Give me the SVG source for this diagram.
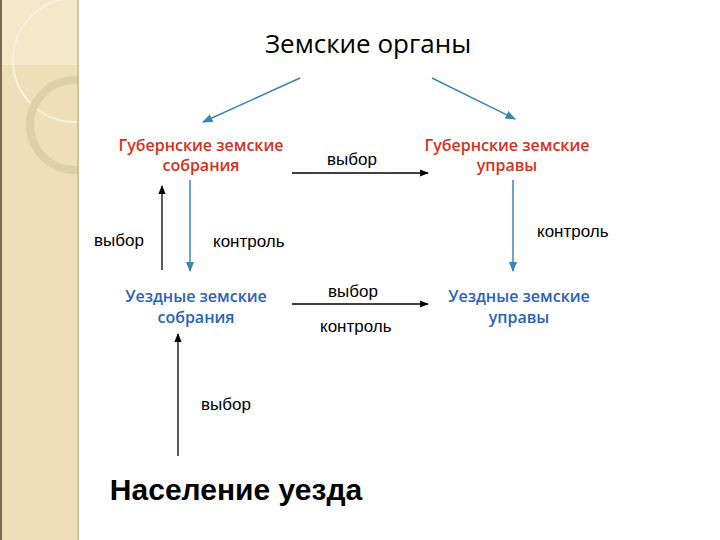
<svg xmlns="http://www.w3.org/2000/svg" width="720" height="540" viewBox="0 0 720 540">
<style>
.r{font-family:"Open Sans","Liberation Sans",sans-serif;font-size:16px;font-weight:600;fill:#d6301e;text-anchor:middle}
.b{font-family:"Open Sans","Liberation Sans",sans-serif;font-size:16px;font-weight:600;fill:#2a62b8;text-anchor:middle}
.k{font-family:"Liberation Sans",sans-serif;font-size:17px;fill:#000}
.blue{stroke:#3a86b0;stroke-width:1.5;fill:none;marker-end:url(#ab)}
.blk{stroke:#000;stroke-width:1.3;fill:none;marker-end:url(#ak)}
</style>
<defs>
<marker id="ab" viewBox="0 0 10 10" refX="9" refY="5" markerWidth="7" markerHeight="7" orient="auto"><path d="M0,1 L10,5 L0,9 z" fill="#3a86b0"/></marker>
<marker id="ak" viewBox="0 0 10 10" refX="9" refY="5" markerWidth="7" markerHeight="7" orient="auto"><path d="M0,1 L10,5 L0,9 z" fill="#000"/></marker>
<clipPath id="strip"><rect x="0" y="0" width="79" height="540"/></clipPath>
</defs>
<rect width="720" height="540" fill="#fff"/>
<g clip-path="url(#strip)">
<rect x="0" y="0" width="79" height="540" fill="#ede0b8"/>
<rect x="0" y="0" width="79" height="65" fill="#f3e9c9"/>
<circle cx="75" cy="60" r="62" fill="none" stroke="#f7f0dc" stroke-width="2"/>
<circle cx="75" cy="125" r="45" fill="none" stroke="#ddd1a8" stroke-width="8"/>
</g>
<line x1="78" y1="0" x2="78" y2="540" stroke="#c9b890" stroke-width="1.5"/>
<line x1="1" y1="0" x2="1" y2="540" stroke="#7a6a50" stroke-width="2"/>
<g id="title"><text x="368" y="53" font-family="'Open Sans','Liberation Sans',sans-serif" font-size="26" text-anchor="middle" fill="#000">Земские органы</text></g>
<g id="gsobr"><text class="r" x="201" y="151">Губернские земские</text><text class="r" x="201" y="171">собрания</text></g>
<g id="guprav"><text class="r" x="507" y="151">Губернские земские</text><text class="r" x="507" y="171">управы</text></g>
<g id="usobr"><text class="b" x="196" y="302">Уездные земские</text><text class="b" x="196" y="323">собрания</text></g>
<g id="uuprav"><text class="b" x="519" y="302">Уездные земские</text><text class="b" x="519" y="323">управы</text></g>
<g id="naselenie"><text x="236" y="500" font-family="'Liberation Sans',Arial,sans-serif" font-size="30" font-weight="bold" text-anchor="middle" fill="#000">Население уезда</text></g>
<g id="connectors">
<line class="blue" x1="300" y1="78" x2="203" y2="122"/>
<line class="blue" x1="432" y1="78" x2="515" y2="119"/>
<line class="blk" x1="292" y1="173" x2="428" y2="173"/>
<line class="blk" x1="162" y1="270" x2="162" y2="186"/>
<line class="blue" x1="190" y1="180" x2="190" y2="271"/>
<line class="blue" x1="513" y1="180" x2="513" y2="271"/>
<line class="blk" x1="292" y1="304" x2="428" y2="304"/>
<line class="blk" x1="178" y1="456" x2="178" y2="334"/>
<text class="k" x="327" y="165">выбор</text>
<text class="k" x="94" y="246">выбор</text>
<text class="k" x="213" y="247">контроль</text>
<text class="k" x="537" y="237">контроль</text>
<text class="k" x="328" y="297">выбор</text>
<text class="k" x="320" y="332">контроль</text>
<text class="k" x="201" y="410">выбор</text>
</g>
</svg>
